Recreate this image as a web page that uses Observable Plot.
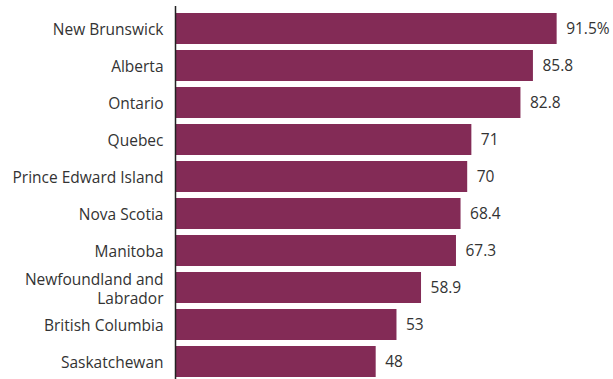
<!DOCTYPE html>
<html><head><meta charset="utf-8">
<script src="https://cdn.jsdelivr.net/npm/d3@7"></script>
<script src="https://cdn.jsdelivr.net/npm/@observablehq/plot@0.6"></script>
<style>
html,body{margin:0;padding:0;background:#fff;}
#chart svg{display:block;}
</style>
</head><body><div id="chart"></div>
<script>
const provinces = ["New Brunswick","Alberta","Ontario","Quebec","Prince Edward Island","Nova Scotia","Manitoba","Newfoundland and Labrador","British Columbia","Saskatchewan"];
const values = [91.5,85.8,82.8,71,70,68.4,67.3,58.9,53,48];
const valueLabels = ["91.5%","85.8","82.8","71","70","68.4","67.3","58.9","53","48"];
const axisLabels = {"Newfoundland and Labrador":"Newfoundland and\nLabrador"};

const data = provinces.map((p,i)=>({province:p, value:values[i], label:valueLabels[i]}));

const chart = Plot.plot({
  width: 613,
  height: 379,
  marginLeft: 176,
  marginRight: 21,
  marginTop: 10,
  marginBottom: 0,
  style: {fontFamily: "'Open Sans', sans-serif", color: "#333", background: "#fff"},
  x: {domain: [0, 100], axis: null},
  y: {domain: provinces, paddingInner: 0.175, paddingOuter: 0, axis: null},
  marks: [
    Plot.barX(data, {y: "province", x: "value", fill: "#832b56"}),
    Plot.ruleX([0], {stroke: "#222", strokeWidth: 1.5, dx: -1, insetTop: -4}),
    Plot.axisY({tickSize: 0, tickPadding: 13, fontSize: 15.5, lineHeight: 1.25, label: null,
      tickFormat: d => axisLabels[d] ?? d, fill: "#333"}),
    Plot.text(data, {y: "province", x: "value", text: "label", textAnchor: "start", dx: 9, fontSize: 15.5, fill: "#333"})
  ]
});
document.getElementById("chart").appendChild(chart);
</script>
</body></html>
